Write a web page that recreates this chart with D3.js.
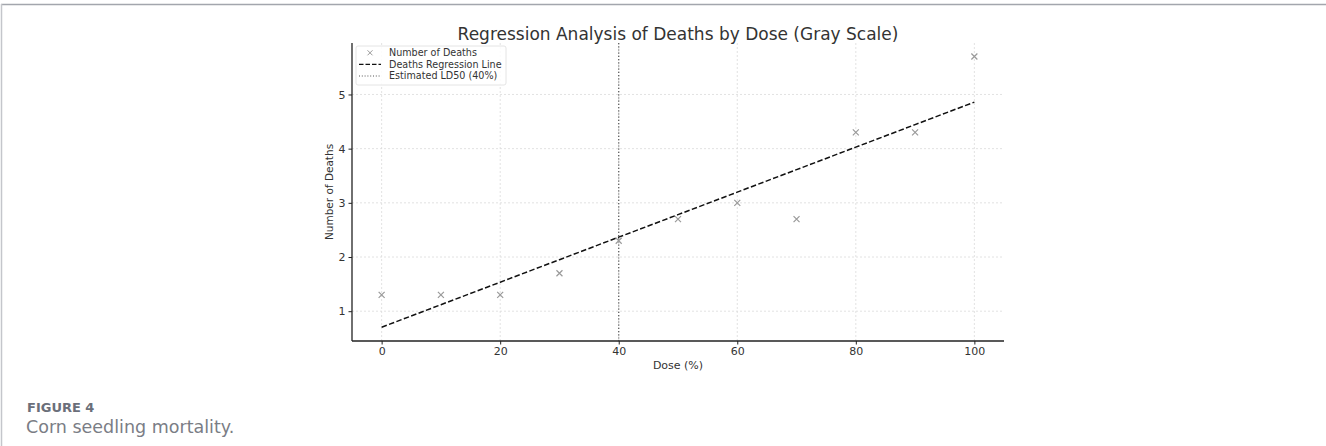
<!DOCTYPE html>
<html>
<head>
<meta charset="utf-8">
<script src="https://cdn.jsdelivr.net/npm/d3@7"></script>
<style>
  body { margin: 0; background: #fff; }
  .chart { position: relative; width: 1326px; height: 446px; overflow: hidden; }
  text { font-family: "DejaVu Sans", sans-serif; }
</style>
</head>
<body>
<div class="chart"></div>
<script>
// Data
var doses = [0, 10, 20, 30, 40, 50, 60, 70, 80, 90, 100];
var deaths = [1.3, 1.3, 1.3, 1.7, 2.3, 2.7, 3.0, 2.7, 4.3, 4.3, 5.7];
var xTicks = [0, 20, 40, 60, 80, 100];
var yTicks = [1, 2, 3, 4, 5];
var ld50 = 40;
var legendItems = ["Number of Deaths", "Deaths Regression Line", "Estimated LD50 (40%)"];

var svgWidth = 1326;
var svgHeight = 446;
var margin = { top: 43, right: 322, bottom: 105, left: 352 };
var width = svgWidth - margin.left - margin.right;
var height = svgHeight - margin.top - margin.bottom;

var svg = d3.select(".chart")
  .append("svg")
  .attr("width", svgWidth)
  .attr("height", svgHeight);

// page frame
svg.append("line").attr("x1", 1).attr("x2", svgWidth).attr("y1", 4.5).attr("y2", 4.5)
  .attr("stroke", "#a3a6ad").attr("stroke-width", 1.5);
svg.append("line").attr("x1", 1.5).attr("x2", 1.5).attr("y1", 4).attr("y2", svgHeight)
  .attr("stroke", "#c4c6cb").attr("stroke-width", 1.5);

var chart = svg.append("g")
  .attr("transform", "translate(" + margin.left + "," + margin.top + ")");

// least squares fit
var mx = d3.mean(doses), my = d3.mean(deaths);
var sxy = 0, sxx = 0;
doses.forEach(function(d, i) {
  sxy += (d - mx) * (deaths[i] - my);
  sxx += (d - mx) * (d - mx);
});
var slope = sxy / sxx;
var intercept = my - slope * mx;
var fitLine = doses.map(function(d) { return { x: d, y: intercept + slope * d }; });

var xScale = d3.scaleLinear().domain([-5, 105]).range([0, width]);
var yScale = d3.scaleLinear().domain([0.45, 5.95]).range([height, 0]);

// grid
chart.append("g").selectAll("line")
  .data(xTicks).enter().append("line")
  .attr("x1", function(d) { return xScale(d); })
  .attr("x2", function(d) { return xScale(d); })
  .attr("y1", 0).attr("y2", height)
  .attr("stroke", "#dadada").attr("stroke-width", 0.8)
  .attr("stroke-dasharray", "2,2");
chart.append("g").selectAll("line")
  .data(yTicks).enter().append("line")
  .attr("y1", function(d) { return yScale(d); })
  .attr("y2", function(d) { return yScale(d); })
  .attr("x1", 0).attr("x2", width)
  .attr("stroke", "#dadada").attr("stroke-width", 0.8)
  .attr("stroke-dasharray", "2,2");

// LD50 line
chart.append("line")
  .attr("x1", xScale(ld50)).attr("x2", xScale(ld50))
  .attr("y1", 0).attr("y2", height)
  .attr("stroke", "#555").attr("stroke-width", 1.2)
  .attr("stroke-dasharray", "1.2,2");

// regression line
var line = d3.line()
  .x(function(d) { return xScale(d.x); })
  .y(function(d) { return yScale(d.y); });
chart.append("path")
  .datum(fitLine)
  .attr("d", line)
  .attr("fill", "none")
  .attr("stroke", "#111")
  .attr("stroke-width", 1.5)
  .attr("stroke-dasharray", "5.5,2.4");

// x markers
var m = 3;
chart.append("g").selectAll("path")
  .data(doses).enter().append("path")
  .attr("transform", function(d, i) {
    return "translate(" + xScale(d) + "," + yScale(deaths[i]) + ")";
  })
  .attr("d", "M" + (-m) + "," + (-m) + "L" + m + "," + m + "M" + (-m) + "," + m + "L" + m + "," + (-m))
  .attr("stroke", "#9a9a9a")
  .attr("stroke-width", 1.2)
  .attr("fill", "none");

// axes
var bottomAxis = d3.axisBottom(xScale).tickValues(xTicks).tickSize(3.5).tickPadding(3);
var leftAxis = d3.axisLeft(yScale).tickValues(yTicks).tickFormat(d3.format("d")).tickSize(3.5).tickPadding(3);

var gx = chart.append("g")
  .attr("transform", "translate(0," + height + ")")
  .call(bottomAxis);
var gy = chart.append("g").call(leftAxis);

[gx, gy].forEach(function(g) {
  g.select(".domain").attr("stroke", "#222").attr("stroke-width", 1.3);
  g.selectAll(".tick line").attr("stroke", "#222");
  g.selectAll(".tick text")
    .attr("fill", "#333")
    .attr("font-size", "11px")
    .attr("font-family", "DejaVu Sans, sans-serif");
});
gx.select(".domain").attr("d", "M0,0H" + width);
gy.select(".domain").attr("d", "M0," + height + "V0");

// labels
chart.append("text")
  .attr("x", width / 2).attr("y", -3.5)
  .attr("text-anchor", "middle")
  .attr("font-size", "17px")
  .attr("fill", "#333")
  .text("Regression Analysis of Deaths by Dose (Gray Scale)");

chart.append("text")
  .attr("x", width / 2).attr("y", height + 28)
  .attr("text-anchor", "middle")
  .attr("font-size", "11px")
  .attr("fill", "#333")
  .text("Dose (%)");

chart.append("text")
  .attr("transform", "translate(-19," + (height / 2) + ") rotate(-90)")
  .attr("text-anchor", "middle")
  .attr("font-size", "10.5px")
  .attr("fill", "#333")
  .text("Number of Deaths");

// legend
var legend = chart.append("g").attr("transform", "translate(4,3)");
legend.append("rect")
  .attr("width", 150).attr("height", 39).attr("rx", 2)
  .attr("fill", "#fff").attr("fill-opacity", 0.85)
  .attr("stroke", "#ddd").attr("stroke-width", 0.8);

legendItems.forEach(function(label, i) {
  var yy = 6.8 + i * 11.6;
  var row = legend.append("g").attr("transform", "translate(0," + yy + ")");
  if (i === 0) {
    row.append("path")
      .attr("d", "M11.5,-2.5L16.5,2.5M11.5,2.5L16.5,-2.5")
      .attr("stroke", "#9a9a9a").attr("stroke-width", 1);
  } else if (i === 1) {
    row.append("line").attr("x1", 3).attr("x2", 25).attr("y1", 0).attr("y2", 0)
      .attr("stroke", "#111").attr("stroke-width", 1.3).attr("stroke-dasharray", "4.5,2");
  } else {
    row.append("line").attr("x1", 3).attr("x2", 25).attr("y1", 0).attr("y2", 0)
      .attr("stroke", "#555").attr("stroke-width", 1).attr("stroke-dasharray", "1,1.8");
  }
  row.append("text")
    .attr("x", 33).attr("y", 3.4)
    .attr("font-size", "9.6px")
    .attr("fill", "#333")
    .text(label);
});

// caption
svg.append("text")
  .attr("x", 27).attr("y", 412)
  .attr("font-family", "Open Sans, sans-serif")
  .attr("font-size", "13px")
  .attr("font-weight", "600")
  .attr("fill", "#6b6f7a")
  .text("FIGURE 4");
svg.append("text")
  .attr("x", 26).attr("y", 433)
  .attr("font-family", "Open Sans, sans-serif")
  .attr("font-size", "17.5px")
  .attr("fill", "#7a7d85")
  .text("Corn seedling mortality.");
</script>
</body>
</html>
